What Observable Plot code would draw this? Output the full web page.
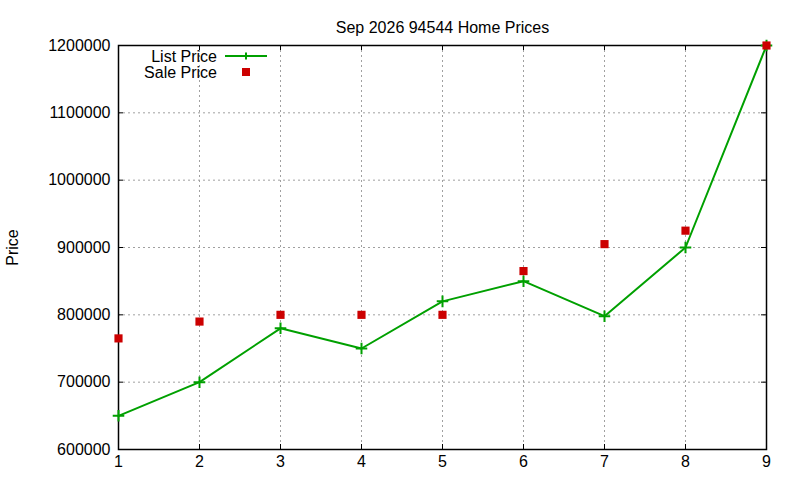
<!DOCTYPE html>
<html>
<head>
<meta charset="utf-8">
<script src="https://cdn.jsdelivr.net/npm/d3@7"></script>
<script src="https://cdn.jsdelivr.net/npm/@observablehq/plot@0.6"></script>
<style>
  html, body { margin: 0; padding: 0; background: #fff; }
  svg { font-family: "Liberation Sans", Arial, sans-serif; }
</style>
</head>
<body>
<div id="chart"></div>
<script>
const months = [1, 2, 3, 4, 5, 6, 7, 8, 9];
const listPrice = [650000, 700000, 780000, 750000, 820000, 850000, 798000, 900000, 1200000];
const salePrice = [765000, 790000, 800000, 800000, 800000, 865000, 905000, 925000, 1200000];
const xTicks = [1, 2, 3, 4, 5, 6, 7, 8, 9];
const yTicks = [600000, 700000, 800000, 900000, 1000000, 1100000, 1200000];
const title = "Sep 2026 94544 Home Prices";
const yLabel = "Price";
const seriesNames = ["List Price", "Sale Price"];

const listData = months.map((m, i) => ({x: m, y: listPrice[i]}));
const saleData = months.map((m, i) => ({x: m, y: salePrice[i]}));

const W = 800, H = 480;
const mL = 118, mR = 34, mT = 45, mB = 31;
const pw = W - mL - mR, ph = H - mT - mB;
const green = "#00a000", red = "#cc0000";
const fs = 16;

const plot = Plot.plot({
  width: W, height: H,
  marginLeft: mL, marginRight: mR, marginTop: mT, marginBottom: mB,
  style: {fontFamily: '"Liberation Sans", Arial, sans-serif', fontSize: fs + "px", background: "#fff", color: "#000"},
  x: {domain: [1, 9], axis: null},
  y: {domain: [600000, 1200000], axis: null},
  marks: [
    Plot.gridX(xTicks, {stroke: "#a0a0a0", strokeOpacity: 1, strokeDasharray: "2,3", strokeWidth: 1}),
    Plot.gridY(yTicks, {stroke: "#a0a0a0", strokeOpacity: 1, strokeDasharray: "2,3", strokeWidth: 1}),
    // inward ticks on all four sides
    Plot.tickY(yTicks, {y: d => d, insetRight: pw - 5, stroke: "#000", strokeWidth: 1}),
    Plot.tickY(yTicks, {y: d => d, insetLeft: pw - 5, stroke: "#000", strokeWidth: 1}),
    Plot.tickX(xTicks, {x: d => d, insetTop: ph - 5, stroke: "#000", strokeWidth: 1}),
    Plot.tickX(xTicks, {x: d => d, insetBottom: ph - 5, stroke: "#000", strokeWidth: 1}),
    Plot.frame({stroke: "#000", strokeWidth: 1.5}),
    Plot.axisY(yTicks, {tickSize: 0, tickPadding: 8, tickFormat: d3.format("d"), fontSize: fs, fill: "#000", label: null}),
    Plot.axisX(xTicks, {tickSize: 0, tickPadding: 6, tickFormat: d3.format("d"), fontSize: fs, fill: "#000", label: null}),
    Plot.line(listData, {x: "x", y: "y", stroke: green, strokeWidth: 2}),
    Plot.dot(listData, {x: "x", y: "y", symbol: "plus", r: 3.8, stroke: green, strokeWidth: 2, clip: false}),
    Plot.dot(saleData, {x: "x", y: "y", symbol: "square", r: 4.6, fill: red, stroke: "none", clip: false}),
    Plot.text([title], {frameAnchor: "top", dy: -24, fontSize: fs, fill: "#000", text: d => d}),
    Plot.text([yLabel], {frameAnchor: "left", textAnchor: "middle", dx: -106, rotate: -90, fontSize: fs, fill: "#000", text: d => d})
  ]
});

// legend (top-left, inside frame)
const svg = d3.select(plot);
const lg = svg.append("g").attr("font-size", fs).attr("fill", "#000");
lg.append("text").attr("x", 217).attr("y", 56).attr("dy", "0.35em").attr("text-anchor", "end").text(seriesNames[0]);
lg.append("text").attr("x", 217).attr("y", 72).attr("dy", "0.35em").attr("text-anchor", "end").text(seriesNames[1]);
lg.append("line").attr("x1", 225).attr("x2", 267).attr("y1", 56).attr("y2", 56).attr("stroke", green).attr("stroke-width", 2);
lg.append("path").attr("d", "M242.5,56H249.5M246,52.5V59.5").attr("stroke", green).attr("stroke-width", 2);
lg.append("rect").attr("x", 242).attr("y", 68).attr("width", 8).attr("height", 8).attr("fill", red);

document.getElementById("chart").appendChild(plot);
</script>
</body>
</html>
